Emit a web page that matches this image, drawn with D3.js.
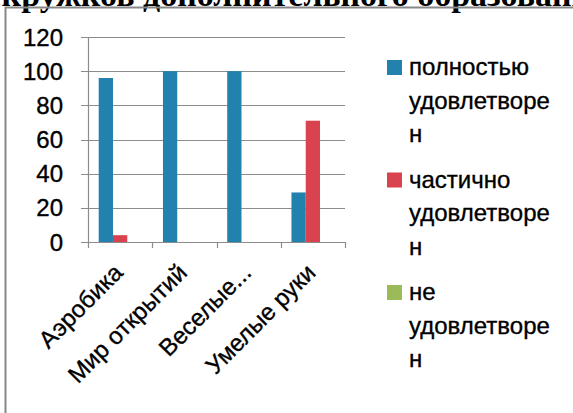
<!DOCTYPE html>
<html>
<head>
<meta charset="utf-8">
<script src="https://cdn.jsdelivr.net/npm/d3@7"></script>
<style>
  body { margin: 0; background: #fff; }
  svg { display: block; }
  text { font-family: "Liberation Sans", Arial, sans-serif; fill: #000; stroke: #000; stroke-width: 0.35px; }
</style>
</head>
<body>
<div id="chart"></div>
<script>
const categories = ["Аэробика", "Мир открытий", "Веселые...", "Умелые руки"];
const seriesNames = [
  ["полностью", "удовлетворе", "н"],
  ["частично", "удовлетворе", "н"],
  ["не", "удовлетворе", "н"]
];
const fullValues = [96, 100, 100, 29];
const partValues = [4, 0, 0, 71];
const noneValues = [0, 0, 0, 0];
const yTicks = [0, 20, 40, 60, 80, 100, 120];
const colors = ["#2381ae", "#d9434f", "#9bbb59"];
const titleLead = "кружков ";
const titleRest = "дополнительного образования";

const W = 573, H = 413;
const svg = d3.select("#chart").append("svg").attr("width", W).attr("height", H);

// clipped title line above the chart (only its lower part shows)
const title = svg.append("text")
  .attr("y", 6)
  .style("font-family", "'Liberation Serif', 'Times New Roman', serif")
  .style("font-weight", "bold")
  .style("font-size", "34px")
  .style("stroke", "none");
const lead = title.append("tspan").text(titleLead);
title.append("tspan").text(titleRest);
title.attr("x", 143 - lead.node().getComputedTextLength());

// chart frame
svg.append("rect")
  .attr("x", 5.5).attr("y", 7.5)
  .attr("width", W + 10).attr("height", H + 10)
  .attr("fill", "none").attr("stroke", "#888").attr("stroke-width", 2);

const plot = { left: 88, right: 345, top: 37, bottom: 242 };

const x = d3.scaleBand().domain(categories).range([plot.left, plot.right]);
const y = d3.scaleLinear().domain([0, 120]).range([plot.bottom, plot.top]);
const series = [fullValues, partValues, noneValues];
const barW = x.bandwidth() / 4.5;
const groupOff = barW * 0.75;

const g = svg.append("g");

// gridlines
g.selectAll("line.grid").data(yTicks).join("line")
  .attr("x1", plot.left - 7).attr("x2", plot.right)
  .attr("y1", d => Math.round(y(d)) + 0.5).attr("y2", d => Math.round(y(d)) + 0.5)
  .attr("stroke", "#8c8c8c").attr("stroke-width", 1.2);

// y axis line
g.append("line")
  .attr("x1", plot.left + 0.5).attr("x2", plot.left + 0.5)
  .attr("y1", plot.top).attr("y2", plot.bottom)
  .attr("stroke", "#8c8c8c").attr("stroke-width", 1.2);

// x tick marks
const xEdges = categories.map(c => x(c)).concat([plot.right]);
g.selectAll("line.xt").data(xEdges).join("line")
  .attr("x1", d => Math.round(d) + 0.5).attr("x2", d => Math.round(d) + 0.5)
  .attr("y1", plot.bottom).attr("y2", plot.bottom + 6)
  .attr("stroke", "#8c8c8c").attr("stroke-width", 1.2);

// bars
series.forEach((vals, si) => {
  g.append("g").selectAll("rect").data(vals).join("rect")
    .attr("x", (d, i) => x(categories[i]) + groupOff + si * barW)
    .attr("y", d => y(d))
    .attr("width", barW)
    .attr("height", d => y(0) - y(d))
    .attr("fill", colors[si]);
});

// y tick labels
g.selectAll("text.yl").data(yTicks).join("text")
  .attr("x", 63).attr("y", d => y(d) + 8.5)
  .attr("text-anchor", "end")
  .style("font-size", "24px")
  .text(d => d);

// x labels rotated
g.selectAll("text.xl").data(categories).join("text")
  .attr("text-anchor", "end")
  .style("font-size", "24px")
  .attr("transform", d => `translate(${x(d) + x.bandwidth() / 2 + 4},${plot.bottom + 32}) rotate(-45)`)
  .text(d => d);

// legend
const legendTop = [75, 187.5, 300];
const lg = svg.append("g");
seriesNames.forEach((lines, si) => {
  lg.append("rect")
    .attr("x", 387).attr("y", legendTop[si] - 15)
    .attr("width", 15).attr("height", 15)
    .attr("fill", colors[si]);
  lines.forEach((t, li) => {
    lg.append("text")
      .attr("x", 409).attr("y", legendTop[si] + li * 33.5)
      .style("font-size", "24px")
      .text(t);
  });
});
</script>
</body>
</html>
